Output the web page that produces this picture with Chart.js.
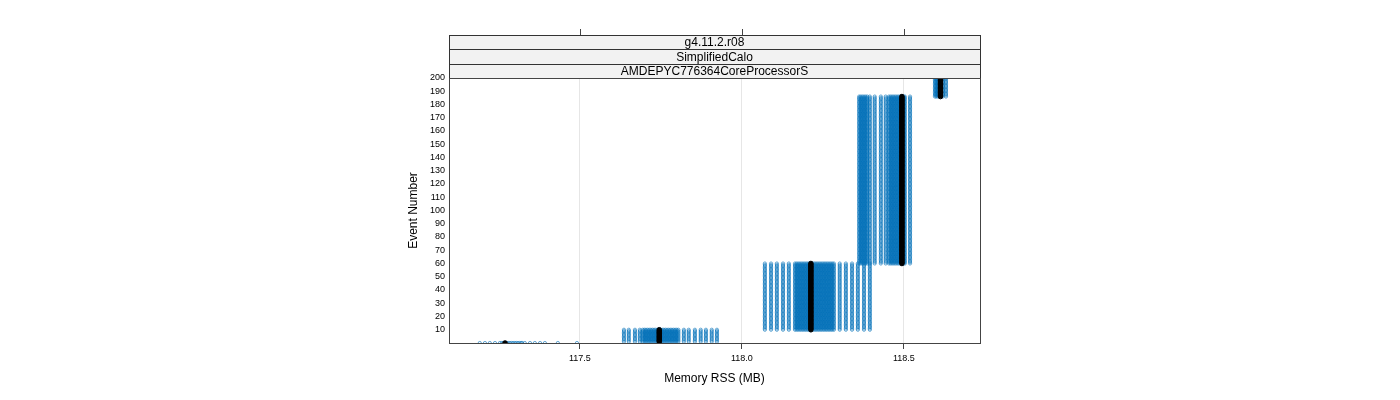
<!DOCTYPE html>
<html>
<head>
<meta charset="utf-8">
<script src="https://cdn.jsdelivr.net/npm/chart.js@4.4.1/dist/chart.umd.min.js"></script>
<style>
  html, body { margin: 0; padding: 0; background: #fff; }
  canvas { display: block; }
</style>
</head>
<body>
<canvas id="memChart" width="1400" height="400"></canvas>
<script>
// Memory RSS per event - one block per memory plateau

// event ranges of each block
const blockFirst = [0, 1, 10, 60, 186];
const blockLast = [0, 10, 60, 186, 200];

// memory values (MB) seen inside each block
const blockColumns = [
    [117.191, 117.207, 117.222, 117.238, 117.253,
     117.259, 117.264, 117.269, 117.274, 117.279, 117.284, 117.289, 117.294, 117.299, 117.304,
     117.309, 117.314, 117.319, 117.322,
     117.330, 117.346, 117.361, 117.377, 117.392, 117.432, 117.491],
    [117.636, 117.651, 117.670, 117.685,
     117.694, 117.699, 117.704, 117.709, 117.714, 117.719, 117.724, 117.729, 117.734, 117.739,
     117.744, 117.749, 117.754, 117.759, 117.764, 117.769, 117.774, 117.779, 117.784, 117.789,
     117.794, 117.799, 117.804,
     117.821, 117.836, 117.855, 117.873, 117.889, 117.907, 117.923],
    [118.071, 118.090, 118.108, 118.127, 118.145,
     118.164, 118.169, 118.174, 118.179, 118.184, 118.189, 118.194, 118.199, 118.204, 118.209,
     118.214, 118.219, 118.224, 118.229, 118.234, 118.239, 118.244, 118.249, 118.254, 118.259,
     118.264, 118.269, 118.274, 118.279, 118.284,
     118.302, 118.321, 118.340, 118.358, 118.377, 118.395],
    [118.362, 118.367, 118.372, 118.377, 118.382, 118.387,
     118.395, 118.410, 118.429, 118.444,
     118.454, 118.459, 118.464, 118.469, 118.474, 118.479, 118.484, 118.489, 118.494, 118.499,
     118.503, 118.519],
    [118.596, 118.600, 118.605, 118.620, 118.630]
];

// median memory of each block (black marks)
const blockMedian = [117.269, 117.745, 118.213, 118.494, 118.613];

const xTicks = [117.5, 118.0, 118.5];
const yTicks = [10, 20, 30, 40, 50, 60, 70, 80, 90, 100, 110, 120, 130, 140, 150, 160, 170, 180, 190, 200];
const stripLabels = ['g4.11.2.r08', 'SimplifiedCalo', 'AMDEPYC776364CoreProcessorS'];

// build point lists
const bluePoints = [];
const blackPoints = [];
for (let b = 0; b < blockFirst.length; b++) {
    for (let ev = blockFirst[b]; ev <= blockLast[b]; ev++) {
        blockColumns[b].forEach(function(x) {
            bluePoints.push({ x: x, y: ev });
        });
        blackPoints.push({ x: blockMedian[b], y: ev });
    }
}

// strips, frame and top ticks (lattice look)
const latticePlugin = {
    id: 'lattice',
    afterDraw: function(chart) {
        const ctx = chart.ctx;
        const area = chart.chartArea;
        const xs = chart.scales.x;
        const stripTop = 35;
        const stripH = (area.top - stripTop) / stripLabels.length;
        const w = area.right - area.left;

        ctx.save();
        ctx.lineWidth = 1;
        ctx.fillStyle = '#f2f2f2';
        ctx.fillRect(area.left, stripTop, w, area.top - stripTop);

        // strip borders
        ctx.strokeStyle = '#333';
        ctx.strokeRect(area.left + 0.5, stripTop + 0.5, w, area.top - stripTop);
        for (let i = 1; i < stripLabels.length; i++) {
            const y = Math.round(stripTop + i * stripH) + 0.5;
            ctx.beginPath();
            ctx.moveTo(area.left, y);
            ctx.lineTo(area.right + 1, y);
            ctx.stroke();
        }

        ctx.fillStyle = '#000';
        ctx.font = '12px "Liberation Sans", Arial, sans-serif';
        ctx.textAlign = 'center';
        ctx.textBaseline = 'middle';
        stripLabels.forEach(function(txt, i) {
            ctx.fillText(txt, (area.left + area.right) / 2, stripTop + i * stripH + stripH / 2 + 1);
        });

        // top tick marks
        ctx.strokeStyle = '#444';
        xTicks.forEach(function(v) {
            const px = Math.round(xs.getPixelForValue(v)) + 0.5;
            ctx.beginPath();
            ctx.moveTo(px, 29);
            ctx.lineTo(px, 35);
            ctx.stroke();
        });

        // panel frame
        ctx.strokeStyle = '#444';
        ctx.strokeRect(area.left + 0.5, area.top + 0.5, w, area.bottom - area.top);
        ctx.restore();
    }
};

const ctx = document.getElementById('memChart');

new Chart(ctx, {
    type: 'scatter',
    data: {
        datasets: [
            {
                label: 'median',
                data: blackPoints,
                pointStyle: 'circle',
                pointRadius: 2.3,
                backgroundColor: '#000',
                borderColor: '#000',
                borderWidth: 1,
                clip: 0
            },
            {
                label: 'events',
                data: bluePoints,
                pointStyle: 'circle',
                pointRadius: 1.6,
                backgroundColor: 'rgba(0,0,0,0)',
                borderColor: 'rgba(0,112,184,0.75)',
                borderWidth: 0.8,
                clip: 0
            }
        ]
    },
    options: {
        responsive: false,
        animation: false,
        devicePixelRatio: 1,
        layout: {
            padding: { top: 78, right: 420, left: 402, bottom: 10 }
        },
        plugins: {
            legend: { display: false },
            tooltip: { enabled: false }
        },
        scales: {
            x: {
                type: 'linear',
                min: 117.096,
                max: 118.735,
                afterBuildTicks: function(scale) {
                    scale.ticks = xTicks.map(function(v) { return { value: v }; });
                },
                afterFit: function(scale) {
                    scale.height = 47;
                },
                ticks: {
                    autoSkip: false,
                    maxRotation: 0,
                    padding: 4,
                    color: '#000',
                    font: { size: 9, family: '"Liberation Sans", Arial, sans-serif' },
                    callback: function(v) { return v.toFixed(1); }
                },
                grid: {
                    color: '#e6e6e6',
                    tickColor: '#444',
                    tickLength: 6
                },
                border: { display: false },
                title: {
                    display: true,
                    text: 'Memory RSS (MB)',
                    color: '#000',
                    font: { size: 12, family: '"Liberation Sans", Arial, sans-serif' }
                }
            },
            y: {
                type: 'linear',
                min: 0,
                max: 200,
                afterBuildTicks: function(scale) {
                    scale.ticks = yTicks.map(function(v) { return { value: v }; });
                },
                afterFit: function(scale) {
                    scale.width = 47;
                },
                ticks: {
                    autoSkip: false,
                    padding: 4,
                    color: '#000',
                    font: { size: 9, family: '"Liberation Sans", Arial, sans-serif' }
                },
                grid: { display: false, drawTicks: false },
                border: { display: false },
                title: {
                    display: true,
                    text: 'Event Number',
                    color: '#000',
                    font: { size: 12, family: '"Liberation Sans", Arial, sans-serif' }
                }
            }
        }
    },
    plugins: [latticePlugin]
});
</script>
</body>
</html>
